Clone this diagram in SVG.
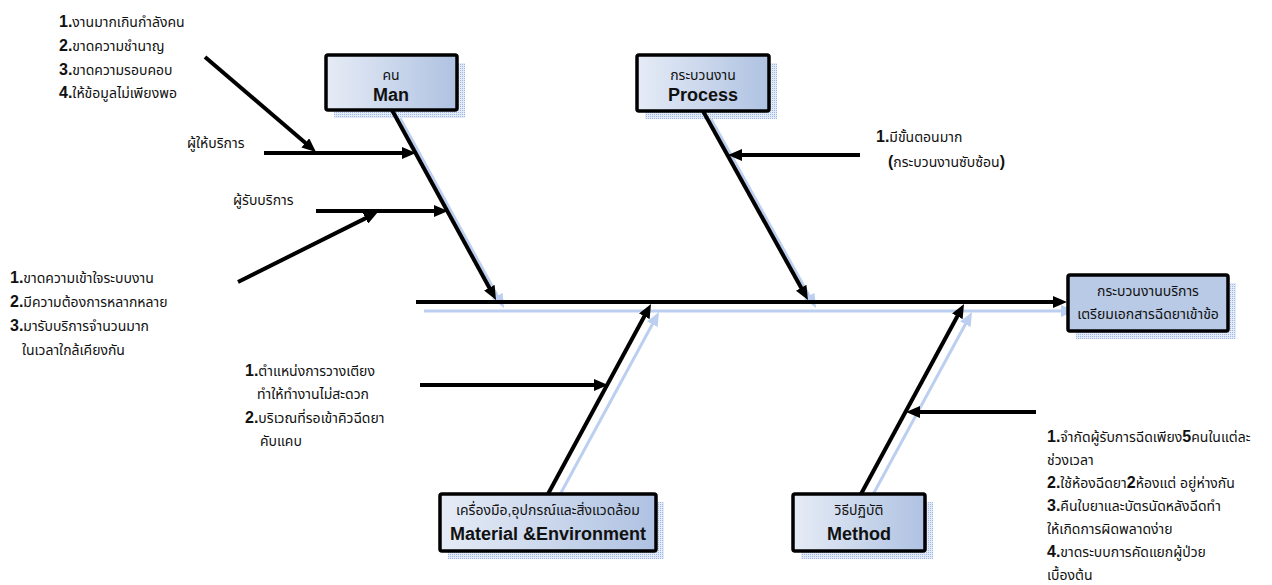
<svg xmlns="http://www.w3.org/2000/svg" width="1272" height="585" viewBox="0 0 1272 585">
<style>
text{font-family:"Liberation Sans","Noto Sans Thai","Noto Sans",sans-serif;fill:#111}
.t{font-size:14px}
.n{font-size:16px;font-weight:bold}
.h{font-size:18px;font-weight:bold}
.bone{stroke:#000;stroke-width:4;fill:none;marker-end:url(#ah)}
.sh{stroke:#bccff0;stroke-width:3;fill:none;marker-end:url(#ahs)}
.box{fill:url(#g);stroke:#000;stroke-width:3.5}
.boxs{fill:url(#dots)}
</style>
<defs>
<marker id="ah" markerUnits="userSpaceOnUse" markerWidth="14" markerHeight="12" refX="6" refY="6" orient="auto"><path d="M0,0 L14,6 L0,12 z" fill="#000"/></marker>
<marker id="ahs" markerUnits="userSpaceOnUse" markerWidth="14" markerHeight="12" refX="6" refY="6" orient="auto"><path d="M0,0 L14,6 L0,12 z" fill="#bccff0"/></marker>
<linearGradient id="g" x1="0" y1="0" x2="1" y2="0"><stop offset="0" stop-color="#e6ecf6"/><stop offset="1" stop-color="#afc2e2"/></linearGradient>
<pattern id="dots" width="2" height="2" patternUnits="userSpaceOnUse"><rect width="2" height="2" fill="#e3ebf8"/><rect width="1" height="1" fill="#9fb8e2"/></pattern>
</defs>

<g id="shadows">
<line class="sh" x1="424" y1="311" x2="1067" y2="311"/>
<line class="sh" x1="400" y1="118" x2="500.2" y2="301"/>
<line class="sh" x1="711" y1="119" x2="812.1" y2="301"/>
<line class="sh" x1="556" y1="502" x2="655.2" y2="319"/>
<line class="sh" x1="869" y1="502" x2="968.2" y2="319"/>
<rect class="boxs" x="334" y="63" width="131" height="55"/>
<rect class="boxs" x="645" y="63" width="132" height="56"/>
<rect class="boxs" x="448" y="502" width="216" height="57"/>
<rect class="boxs" x="801" y="502" width="132" height="57"/>
<rect class="boxs" x="1076" y="283" width="160" height="56"/>
</g>

<g id="connectors">
<line class="bone" x1="416" y1="302" x2="1059" y2="302"/>
<line class="bone" x1="392" y1="110" x2="492.2" y2="293"/>
<line class="bone" x1="703" y1="111" x2="804.1" y2="293"/>
<line class="bone" x1="548" y1="494" x2="647.2" y2="311"/>
<line class="bone" x1="861" y1="494" x2="960.2" y2="311"/>
<line class="bone" x1="264" y1="153" x2="408" y2="153"/>
<line class="bone" x1="205" y1="57" x2="309.9" y2="146.8"/>
<line class="bone" x1="316" y1="211" x2="440" y2="211"/>
<line class="bone" x1="238" y1="282" x2="370.8" y2="215.6"/>
<line class="bone" x1="860" y1="155" x2="736" y2="155"/>
<line class="bone" x1="420" y1="385" x2="600" y2="385"/>
<line class="bone" x1="1036" y1="412" x2="914" y2="412"/>
</g>

<g id="man">
<rect class="box" x="326" y="55" width="131" height="55" rx="2"/>
<text class="t" x="391" y="80" text-anchor="middle">คน</text>
<text class="h" x="391" y="101" text-anchor="middle">Man</text>
</g>
<g id="process">
<rect class="box" x="637" y="55" width="132" height="56" rx="2"/>
<text class="t" x="703" y="80" text-anchor="middle">กระบวนงาน</text>
<text class="h" x="703" y="101" text-anchor="middle">Process</text>
</g>
<g id="material">
<rect class="box" x="440" y="494" width="216" height="57" rx="2"/>
<text class="t" x="548" y="515" text-anchor="middle">เครื่องมือ,อุปกรณ์และสิ่งแวดล้อม</text>
<text class="h" x="548" y="540" text-anchor="middle">Material &amp;Environment</text>
</g>
<g id="method">
<rect class="box" x="793" y="494" width="132" height="57" rx="2"/>
<text class="t" x="859" y="515" text-anchor="middle">วิธีปฏิบัติ</text>
<text class="h" x="859" y="540" text-anchor="middle">Method</text>
</g>
<g id="effect">
<rect class="box" x="1068" y="275" width="160" height="56" rx="2" style="fill:#b9cae6"/>
<text class="t" x="1148" y="296" text-anchor="middle">กระบวนงานบริการ</text>
<text class="t" x="1148" y="319" text-anchor="middle">เตรียมเอกสารฉีดยาเข้าข้อ</text>
</g>

<g id="man-causes">
<text class="t" x="59" y="27"><tspan class="n">1.</tspan>งานมากเกินกำลังคน</text>
<text class="t" x="59" y="51"><tspan class="n">2.</tspan>ขาดความชำนาญ</text>
<text class="t" x="59" y="75"><tspan class="n">3.</tspan>ขาดความรอบคอบ</text>
<text class="t" x="59" y="98"><tspan class="n">4.</tspan>ให้ข้อมูลไม่เพียงพอ</text>
<text class="t" x="187" y="148">ผู้ให้บริการ</text>
<text class="t" x="233" y="205">ผู้รับบริการ</text>
<text class="t" x="10" y="283"><tspan class="n">1.</tspan>ขาดความเข้าใจระบบงาน</text>
<text class="t" x="10" y="307"><tspan class="n">2.</tspan>มีความต้องการหลากหลาย</text>
<text class="t" x="10" y="331"><tspan class="n">3.</tspan>มารับบริการจำนวนมาก</text>
<text class="t" x="22" y="355">ในเวลาใกล้เคียงกัน</text>
</g>
<g id="process-causes">
<text class="t" x="876" y="142"><tspan class="n">1.</tspan>มีขั้นตอนมาก</text>
<text class="t" x="888" y="167"><tspan class="n">(</tspan>กระบวนงานซับซ้อน<tspan class="n">)</tspan></text>
</g>
<g id="material-causes">
<text class="t" x="245" y="376"><tspan class="n">1.</tspan>ตำแหน่งการวางเตียง</text>
<text class="t" x="257" y="399">ทำให้ทำงานไม่สะดวก</text>
<text class="t" x="245" y="423"><tspan class="n">2.</tspan>บริเวณที่รอเข้าคิวฉีดยา</text>
<text class="t" x="260" y="446">คับแคบ</text>
</g>
<g id="method-causes">
<text class="t" x="1047" y="442"><tspan class="n">1.</tspan>จำกัดผู้รับการฉีดเพียง<tspan class="n">5</tspan>คนในแต่ละ</text>
<text class="t" x="1047" y="465">ช่วงเวลา</text>
<text class="t" x="1047" y="488"><tspan class="n">2.</tspan>ใช้ห้องฉีดยา<tspan class="n">2</tspan>ห้องแต่ อยู่ห่างกัน</text>
<text class="t" x="1047" y="511"><tspan class="n">3.</tspan>คืนใบยาและบัตรนัดหลังฉีดทำ</text>
<text class="t" x="1047" y="534">ให้เกิดการผิดพลาดง่าย</text>
<text class="t" x="1047" y="557"><tspan class="n">4.</tspan>ขาดระบบการคัดแยกผู้ป่วย</text>
<text class="t" x="1047" y="580">เบื้องต้น</text>
</g>
</svg>
